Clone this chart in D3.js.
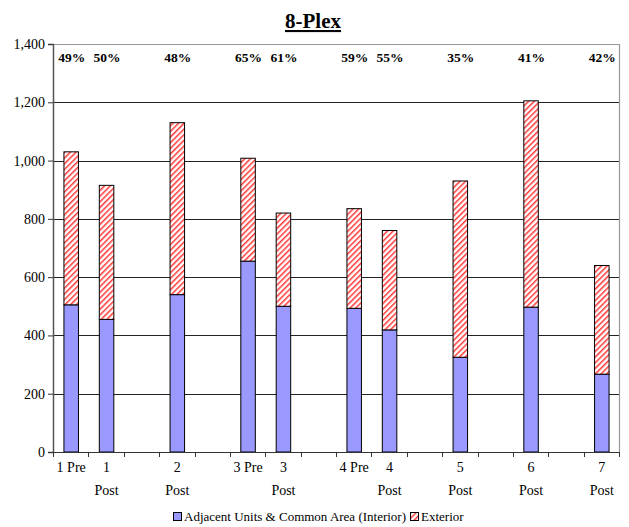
<!DOCTYPE html>
<html>
<head>
<meta charset="utf-8">
<script src="https://cdn.jsdelivr.net/npm/d3@7/dist/d3.min.js"></script>
<style>
  html, body { margin: 0; padding: 0; background: #fff; }
  svg { display: block; }
  svg text { font-family: "Liberation Serif", "Times New Roman", serif; }
</style>
</head>
<body>
<svg id="chart" width="629" height="527"></svg>
<script>
// Category slots along the x axis (empty strings are spacer slots)
const categories = ["1 Pre", "1 Post", "", "2 Post", "", "3 Pre", "3 Post", "", "4 Pre", "4 Post", "", "5 Post", "", "6 Post", "", "7 Post"];
// Interior (adjacent units & common area) leakage per slot
const interior = [505, 455, null, 540, null, 655, 500, null, 493, 419, null, 325, null, 497, null, 267];
// Exterior leakage per slot
const exterior = [525, 460, null, 590, null, 353, 320, null, 342, 341, null, 605, null, 708, null, 373];
// Interior share labels shown above each bar
const shareLabels = ["49%", "50%", null, "48%", null, "65%", "61%", null, "59%", "55%", null, "35%", null, "41%", null, "42%"];
const yTicks = [0, 200, 400, 600, 800, 1000, 1200, 1400];
const seriesNames = ["Adjacent Units & Common Area (Interior)", "Exterior"];

const FONT = "Liberation Serif, Times New Roman, serif";
const svg = d3.select("#chart");
const margin = { left: 53, right: 10, top: 44, bottom: 75 };
const W = 629, H = 527;
const plotW = W - margin.left - margin.right;
const plotH = H - margin.top - margin.bottom;

// Diagonal red hatch for the exterior series
const defs = svg.append("defs");
const pat = defs.append("pattern")
  .attr("id", "hatch")
  .attr("patternUnits", "userSpaceOnUse")
  .attr("width", 4).attr("height", 4)
  .attr("patternTransform", "rotate(45)");
pat.append("rect").attr("width", 4).attr("height", 4).attr("fill", "#fff");
pat.append("rect").attr("x", 0).attr("y", 0).attr("width", 1.5).attr("height", 4).attr("fill", "#ff3535");

const g = svg.append("g").attr("transform", `translate(${margin.left},${margin.top})`);

const x = d3.scaleBand()
  .domain(d3.range(categories.length))
  .range([0, plotW])
  .paddingInner(0.59)
  .paddingOuter(0.295);

const slot = d3.scaleBand()
  .domain(d3.range(categories.length))
  .range([0, plotW]);

const y = d3.scaleLinear().domain([0, 1400]).range([plotH, 0]);

// Horizontal gridlines
g.append("g")
  .selectAll("line")
  .data(yTicks.filter(t => t > 0 && t < 1400))
  .join("line")
  .attr("x1", 0).attr("x2", plotW)
  .attr("y1", d => Math.round(y(d)) + 0.5).attr("y2", d => Math.round(y(d)) + 0.5)
  .attr("stroke", "#222").attr("stroke-width", 1);

// Plot frame (top and right edges)
g.append("path")
  .attr("d", `M0,${Math.round(y(1400)) + 0.5}H${plotW + 0.5}V${plotH}`)
  .attr("fill", "none").attr("stroke", "#999").attr("stroke-width", 1.2);

// Stacked bars
const rows = categories.map((c, i) => ({ i, c, a: interior[i], b: exterior[i], label: shareLabels[i] }))
  .filter(d => d.a != null);

const bars = g.append("g");
bars.selectAll("rect.int")
  .data(rows)
  .join("rect")
  .attr("class", "int")
  .attr("x", d => x(d.i) + 0.5)
  .attr("width", x.bandwidth())
  .attr("y", d => y(d.a))
  .attr("height", d => y(0) - y(d.a))
  .attr("fill", "#9999ff")
  .attr("stroke", "#000").attr("stroke-width", 1);

bars.selectAll("rect.ext")
  .data(rows)
  .join("rect")
  .attr("class", "ext")
  .attr("x", d => x(d.i) + 0.5)
  .attr("width", x.bandwidth())
  .attr("y", d => y(d.a + d.b))
  .attr("height", d => y(d.a) - y(d.a + d.b))
  .attr("fill", "url(#hatch)")
  .attr("stroke", "#000").attr("stroke-width", 1);

// Percentage labels across the top
g.append("g")
  .selectAll("text")
  .data(rows)
  .join("text")
  .attr("x", d => x(d.i) + x.bandwidth() / 2 + 1)
  .attr("y", 18)
  .attr("text-anchor", "middle")
  .attr("font-family", FONT)
  .attr("font-weight", "bold")
  .attr("font-size", 13.5)
  .text(d => d.label);

// Y axis
const yAxis = g.append("g")
  .call(d3.axisLeft(y).tickValues(yTicks).tickSize(5).tickPadding(3).tickFormat(d3.format(",")));
yAxis.select(".domain").attr("stroke", "#555").attr("stroke-width", 1.5);
yAxis.selectAll(".tick line").attr("stroke", "#333");
yAxis.selectAll(".tick text").attr("font-size", 14).attr("font-family", FONT).attr("fill", "#000");

// X axis: baseline with ticks at slot boundaries
const xg = g.append("g").attr("transform", `translate(0,${plotH})`);
xg.append("line").attr("x1", 0).attr("x2", plotW).attr("y1", 0.5).attr("y2", 0.5)
  .attr("stroke", "#333").attr("stroke-width", 1.2);
xg.selectAll("line.tk")
  .data(d3.range(categories.length + 1))
  .join("line")
  .attr("class", "tk")
  .attr("x1", i => Math.round(i * slot.step()) + 0.5)
  .attr("x2", i => Math.round(i * slot.step()) + 0.5)
  .attr("y1", 0).attr("y2", 5)
  .attr("stroke", "#333");

const catText = xg.selectAll("text.cat")
  .data(categories.map((c, i) => ({ c, i })).filter(d => d.c !== ""))
  .join("text")
  .attr("class", "cat")
  .attr("text-anchor", "middle")
  .attr("font-family", FONT)
  .attr("font-size", 14)
  .attr("transform", d => `translate(${x(d.i) + x.bandwidth() / 2 + 0.5},0)`);
catText.each(function(d) {
  const t = d3.select(this);
  const parts = d.c.split(" ");
  if (parts[1] === "Pre") {
    t.append("tspan").attr("x", 0).attr("y", 20).text(d.c);
  } else {
    t.append("tspan").attr("x", 0).attr("y", 20).text(parts[0]);
    t.append("tspan").attr("x", 0).attr("y", 43).text(parts[1]);
  }
});

// Title
svg.append("text")
  .attr("x", 313).attr("y", 28)
  .attr("text-anchor", "middle")
  .attr("font-family", FONT)
  .attr("font-weight", "bold")
  .attr("font-size", 21)
  .attr("text-decoration", "underline")
  .text("8-Plex");

// Legend
const legend = svg.append("g").attr("transform", "translate(173,512)");
const fills = ["#9999ff", "url(#hatch)"];
let lx = 0;
seriesNames.forEach((name, k) => {
  const item = legend.append("g").attr("transform", `translate(${lx},0)`);
  item.append("rect").attr("x", 0.5).attr("y", 0.5).attr("width", 8).attr("height", 8)
    .attr("fill", fills[k]).attr("stroke", "#000").attr("stroke-width", 1);
  const tx = item.append("text").attr("x", 11).attr("y", 9).attr("font-family", FONT)
    .attr("font-size", 13).text(name);
  lx += 11 + tx.node().getComputedTextLength() + 4;
});
</script>
</body>
</html>
